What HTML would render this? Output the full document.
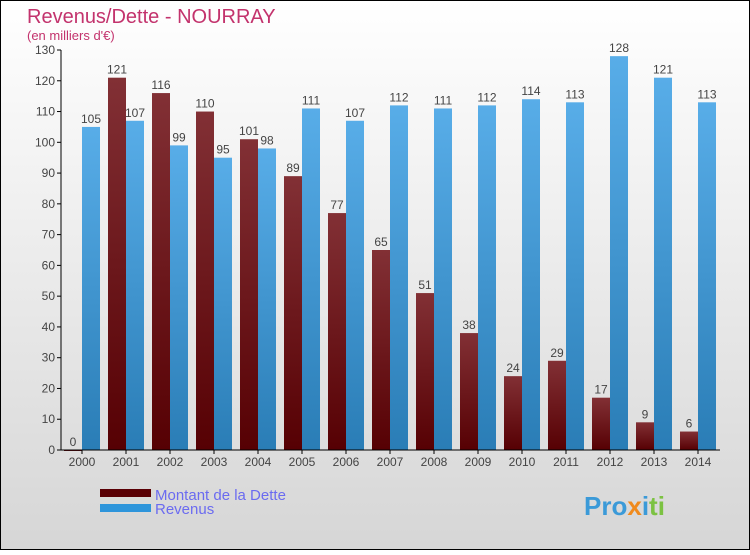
<!DOCTYPE html>
<html><head><meta charset="utf-8"><style>
html,body{margin:0;padding:0;}
body{width:750px;height:550px;overflow:hidden;font-family:"Liberation Sans",sans-serif;}
</style></head><body>
<svg id="chart" width="750" height="550" xmlns="http://www.w3.org/2000/svg">
<defs>
<linearGradient id="bg" x1="0" y1="0" x2="0" y2="1"><stop offset="0" stop-color="#ffffff"/><stop offset="1" stop-color="#d6d6d6"/></linearGradient>
<linearGradient id="gd" x1="0" y1="0" x2="0" y2="1"><stop offset="0" stop-color="#823035"/><stop offset="1" stop-color="#560003"/></linearGradient>
<linearGradient id="gr" x1="0" y1="0" x2="0" y2="1"><stop offset="0" stop-color="#58ade8"/><stop offset="1" stop-color="#2a7db6"/></linearGradient>
</defs>
<rect x="0.5" y="0.5" width="749" height="549" fill="url(#bg)" stroke="#000"/>
<text x="27" y="23" font-size="20" fill="#c3336d">Revenus/Dette - NOURRAY</text>
<text x="27" y="40" font-size="13" fill="#c3336d">(en milliers d'€)</text>
<g id="yaxis"></g>
<g id="bars"></g>
<g id="xaxis"></g>
<g>
<rect x="100" y="489" width="51" height="8" fill="#5a0005"/>
<text x="155" y="500" font-size="15" fill="#6b6bf0">Montant de la Dette</text>
<rect x="100" y="504" width="51" height="8" fill="#2e95db"/>
<text x="155" y="514" font-size="15" fill="#6b6bf0">Revenus</text>
</g>
<g font-size="26" font-weight="bold">
<text x="584" y="515"><tspan fill="#3b9ad8">Pro</tspan><tspan fill="#f08a1c">x</tspan><tspan fill="#3b9ad8">i</tspan><tspan fill="#7cc242">ti</tspan></text>
</g>
</svg>
<script>
const years=["2000","2001","2002","2003","2004","2005","2006","2007","2008","2009","2010","2011","2012","2013","2014"];
const debt=[0,121,116,110,101,89,77,65,51,38,24,29,17,9,6];
const revenue=[105,107,99,95,98,111,107,112,111,112,114,113,128,121,113];
const yTicks=[0,10,20,30,40,50,60,70,80,90,100,110,120,130];
const NS="http://www.w3.org/2000/svg";
const y0=450,yTop=50,yMax=130;
function y(v){return y0-(v/yMax)*(y0-yTop);}
function gx(i){return 64+44*i;}
function mk(tag,attrs,parent){const e=document.createElementNS(NS,tag);for(const k in attrs)e.setAttribute(k,attrs[k]);parent.appendChild(e);return e;}
const ya=document.getElementById('yaxis'),xa=document.getElementById('xaxis'),bars=document.getElementById('bars');
let l=mk('line',{x1:61,y1:yTop,x2:61,y2:y0,stroke:'#000'},ya);


yTicks.forEach(t=>{
 const tk=mk('line',{x1:57,y1:y(t),x2:61,y2:y(t),stroke:'#000'},ya);
 
 
 const tx=mk('text',{x:55,y:y(t)+4,'font-size':12,fill:'#444','text-anchor':'end'},ya);
 tx.textContent=t;
 
 
});
let xl=mk('line',{x1:61,y1:y0,x2:720,y2:y0,stroke:'#000'},xa);


years.forEach((yr,i)=>{
 const cx=gx(i)+18;
 const tk=mk('line',{x1:cx,y1:y0,x2:cx,y2:y0+4,stroke:'#000'},xa);
 
 
 const tx=mk('text',{x:cx,y:y0+16,'font-size':12,fill:'#444','text-anchor':'middle'},xa);
 tx.textContent=yr;
 
 
 const d=debt[i],r=revenue[i];
 const bd=mk('rect',{x:gx(i),y:y(d),width:18,height:Math.max(y0-y(d),1),fill:'url(#gd)'},bars);
 
 
 const ld=mk('text',{x:gx(i)+9,y:y(d)-4,'font-size':12,fill:'#444','text-anchor':'middle'},bars);
 ld.textContent=d;
 
 
 const br=mk('rect',{x:gx(i)+18,y:y(r),width:18,height:y0-y(r),fill:'url(#gr)'},bars);
 
 
 const lr=mk('text',{x:gx(i)+27,y:y(r)-4,'font-size':12,fill:'#444','text-anchor':'middle'},bars);
 lr.textContent=r;
 
 
});
</script>
</body></html>
